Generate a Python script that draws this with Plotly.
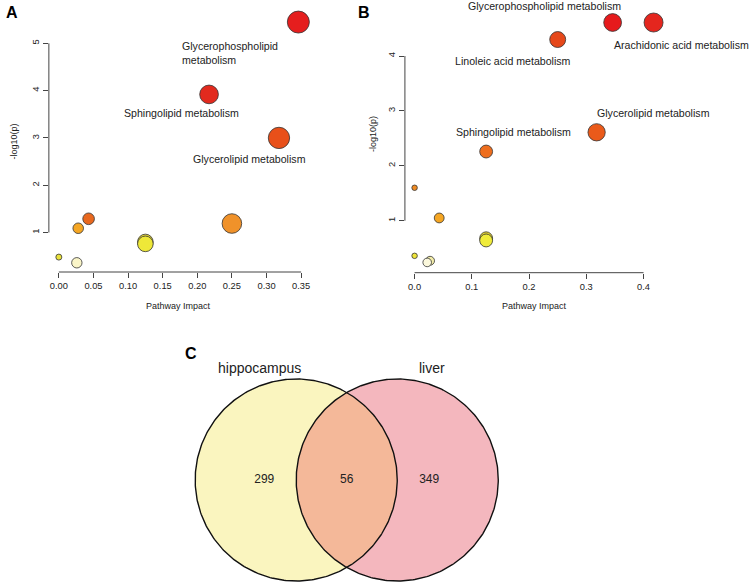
import numpy as np
import plotly.graph_objects as go

# ---------------- data ----------------
# Panel A (hippocampus pathways)
a_impact = [0.346, 0.217, 0.318, 0.250, 0.043, 0.028, 0.125, 0.125, 0.000, 0.026]
a_logp   = [5.45, 3.92, 3.00, 1.19, 1.29, 1.09, 0.80, 0.76, 0.48, 0.36]
a_names  = ["Glycerophospholipid<br>metabolism", "Sphingolipid metabolism",
            "Glycerolipid metabolism", "", "", "", "", "", "", ""]
a_colors = ["#E51E1E", "#E22A1E", "#E8501A", "#F0922A", "#E8681E", "#F5A623",
            "#E2D236", "#EEE838", "#EAE23C", "#FAF5C8"]

# Panel B (liver pathways)
b_impact = [0.346, 0.4175, 0.250, 0.318, 0.125, 0.000, 0.043, 0.125, 0.125, 0.000, 0.027, 0.022]
b_logp   = [4.61, 4.61, 4.30, 2.61, 2.26, 1.60, 1.05, 0.68, 0.64, 0.36, 0.27, 0.24]
b_names  = ["Glycerophospholipid metabolism", "Arachidonic acid metabolism",
            "Linoleic acid metabolism", "Glycerolipid metabolism",
            "Sphingolipid metabolism", "", "", "", "", "", "", ""]
b_colors = ["#E61A1C", "#E4261E", "#E6481A", "#EA5A1A", "#EE6E1E", "#F08C24",
            "#F5A623", "#E2D230", "#F0EC3A", "#EEE43A", "#F2ECA8", "#FBF8DC"]

a_xticks = [0.00, 0.05, 0.10, 0.15, 0.20, 0.25, 0.30, 0.35]
a_yticks = [1, 2, 3, 4, 5]
b_xticks = [0.0, 0.1, 0.2, 0.3, 0.4]
b_yticks = [1, 2, 3, 4]

# Panel C (Venn)
venn_sets   = ["hippocampus", "liver"]
venn_counts = [299, 56, 349]   # hippocampus only, shared, liver only

# ---------------- layout helpers ----------------
W, H = 753, 585
FONT = "Arial, Liberation Sans, sans-serif"


def xd(p0, p1):
    return [p0 / W, p1 / W]


def yd(top, bottom):
    return [1 - bottom / H, 1 - top / H]


fig = go.Figure()

# label offsets (pixels) relative to the labelled point: (xshift, yshift, xanchor)
a_label_off = [(-117, -30.6, "left"), (-27.8, -18.4, "center"), (-29.8, -20.6, "center")]
b_label_off = [(-67.8, 17, "center"), (28, -22.3, "center"), (-45, -21.4, "center"),
               (56.5, 19.6, "center"), (27.1, 20, "center")]


def marker_sizes(impacts, smin, smax):
    imp = np.array(impacts)
    return smin + (smax - smin) * np.sqrt(imp / imp.max())


fig.add_trace(go.Scatter(
    x=a_impact, y=a_logp, mode="markers", xaxis="x", yaxis="y",
    marker=dict(size=marker_sizes(a_impact, 6.0, 22.0), color=a_colors,
                line=dict(color="#333333", width=0.8), opacity=1),
    cliponaxis=False, showlegend=False, hoverinfo="skip"))

fig.add_trace(go.Scatter(
    x=b_impact, y=b_logp, mode="markers", xaxis="x2", yaxis="y2",
    marker=dict(size=marker_sizes(b_impact, 5.5, 19.0), color=b_colors,
                line=dict(color="#333333", width=0.8), opacity=1),
    cliponaxis=False, showlegend=False, hoverinfo="skip"))

annotations = []
for i, (name, off) in enumerate(zip(a_names, a_label_off)):
    annotations.append(dict(text=name, x=a_impact[i], y=a_logp[i], xref="x", yref="y",
                            xshift=off[0], yshift=off[1], xanchor=off[2], yanchor="middle",
                            align="left", showarrow=False, borderpad=0,
                            font=dict(family=FONT, size=10.6, color="#222222")))
for i, (name, off) in enumerate(zip(b_names, b_label_off)):
    annotations.append(dict(text=name, x=b_impact[i], y=b_logp[i], xref="x2", yref="y2",
                            xshift=off[0], yshift=off[1], xanchor=off[2], yanchor="middle",
                            showarrow=False, borderpad=0,
                            font=dict(family=FONT, size=10.6, color="#222222")))

# axis titles
for xr, ypix in [("x domain", 306), ("x2 domain", 306)]:
    annotations.append(dict(text="Pathway Impact", x=0.5, xref=xr, y=1 - ypix / H, yref="paper",
                            xanchor="center", yanchor="middle",
                            showarrow=False, font=dict(family=FONT, size=9, color="#222222")))
for xpix, ypix in [(14, 141.5), (374, 134)]:
    annotations.append(dict(text="-log10(p)", x=xpix / W, xref="paper", y=1 - ypix / H,
                            yref="paper", textangle=-90, showarrow=False,
                            xanchor="center", yanchor="middle",
                            font=dict(family=FONT, size=9, color="#222222")))

# panel letters
for letter, xp, yp in [("A", 12, 12.5), ("B", 365, 12.5), ("C", 191.5, 353.5)]:
    annotations.append(dict(text="<b>%s</b>" % letter, x=xp / W, y=1 - yp / H, xref="paper",
                            yref="paper", showarrow=False, xanchor="center", yanchor="middle",
                            font=dict(family=FONT, size=16, color="#000000")))

# ---------------- Venn ----------------
r = 1.0
d = 1.0
centers = [0.0, d]
t = np.linspace(0, 2 * np.pi, 361)
venn_fill = ["#FAF5BF", "#F4B7BE"]
for c, col in zip(centers, venn_fill):
    fig.add_trace(go.Scatter(x=c + r * np.cos(t), y=r * np.sin(t), mode="lines",
                             fill="toself", fillcolor=col, line=dict(width=0),
                             xaxis="x3", yaxis="y3", showlegend=False, hoverinfo="skip"))
# lens (intersection): right arc of left circle, then left arc of right circle
half = np.arccos((d / 2) / r)
tl = np.linspace(-half, half, 121)
arc1_x = centers[0] + r * np.cos(tl)
arc1_y = r * np.sin(tl)
arc2_x = centers[1] - r * np.cos(tl[::-1])
arc2_y = r * np.sin(tl[::-1])
fig.add_trace(go.Scatter(x=np.concatenate([arc1_x, arc2_x]), y=np.concatenate([arc1_y, arc2_y]),
                         mode="lines", fill="toself", fillcolor="#F4B899", line=dict(width=0),
                         xaxis="x3", yaxis="y3", showlegend=False, hoverinfo="skip"))
for c in centers:
    fig.add_trace(go.Scatter(x=c + r * np.cos(t), y=r * np.sin(t), mode="lines",
                             line=dict(color="#111111", width=1.4),
                             xaxis="x3", yaxis="y3", showlegend=False, hoverinfo="skip"))

label_off = 0.316
fig.add_trace(go.Scatter(
    x=[centers[0] - label_off * r, (centers[0] + centers[1]) / 2, centers[1] + label_off * r],
    y=[0, 0, 0], mode="text", text=[str(v) for v in venn_counts],
    textfont=dict(family=FONT, size=12, color="#222222"),
    xaxis="x3", yaxis="y3", showlegend=False, hoverinfo="skip"))

scale_c = 101.3
y3_range = [(480 - 585) / 101.0, (480 - 374) / 101.0]
set_label_y = 1.112 * r
set_label_y_dom = (set_label_y - y3_range[0]) / (y3_range[1] - y3_range[0])
for name, xpos in zip(venn_sets, [centers[0] - 0.365 * r, centers[1] + 0.343 * r]):
    annotations.append(dict(text=name, x=xpos, y=set_label_y_dom, xref="x3", yref="y3 domain",
                            xanchor="center", yanchor="middle",
                            showarrow=False, font=dict(family=FONT, size=14, color="#222222")))

# ---------------- axes ----------------
common = dict(showgrid=False, zeroline=False, showline=False, ticks="outside", ticklen=5,
              tickwidth=1, tickcolor="#444444",
              tickfont=dict(family=FONT, size=9.3, color="#222222"))

fig.update_layout(
    width=W, height=H, margin=dict(l=0, r=0, t=0, b=0), autosize=False,
    paper_bgcolor="white", plot_bgcolor="white",
    xaxis=dict(domain=xd(49, 309), range=[-0.0144, 0.3602], anchor="y",
               tickvals=a_xticks, ticktext=["%.2f" % v for v in a_xticks], **common),
    yaxis=dict(domain=yd(12.6, 272), range=[0.165, 5.65], anchor="x",
               tickvals=a_yticks, tickangle=-90, **common),
    xaxis2=dict(domain=xd(406, 665), range=[-0.0169, 0.4344], anchor="y2",
                tickvals=b_xticks, ticktext=["%.1f" % v for v in b_xticks], **common),
    yaxis2=dict(domain=yd(12.9, 272.7), range=[0.053, 4.785], anchor="x2",
                tickvals=b_yticks, tickangle=-90, **common),
    xaxis3=dict(domain=xd(190, 506), range=[(190 - 297) / scale_c, (506 - 297) / scale_c],
                anchor="y3", visible=False),
    yaxis3=dict(domain=yd(374, 585), range=y3_range, anchor="x3", visible=False),
    annotations=annotations,
    shapes=[
        dict(type="line", xref="x", yref="y domain", x0=a_xticks[0], x1=a_xticks[-1], y0=0, y1=0,
             line=dict(color="#444444", width=1)),
        dict(type="line", xref="x domain", yref="y", x0=0, x1=0, y0=a_yticks[0], y1=a_yticks[-1],
             line=dict(color="#444444", width=1)),
        dict(type="line", xref="x2", yref="y2 domain", x0=b_xticks[0], x1=b_xticks[-1], y0=0, y1=0,
             line=dict(color="#444444", width=1)),
        dict(type="line", xref="x2 domain", yref="y2", x0=0, x1=0, y0=b_yticks[0], y1=b_yticks[-1],
             line=dict(color="#444444", width=1)),
    ],
)

fig.write_html("out.html", config={"displayModeBar": False},
               post_script="document.body.style.margin='0';document.body.style.overflow='hidden';")
